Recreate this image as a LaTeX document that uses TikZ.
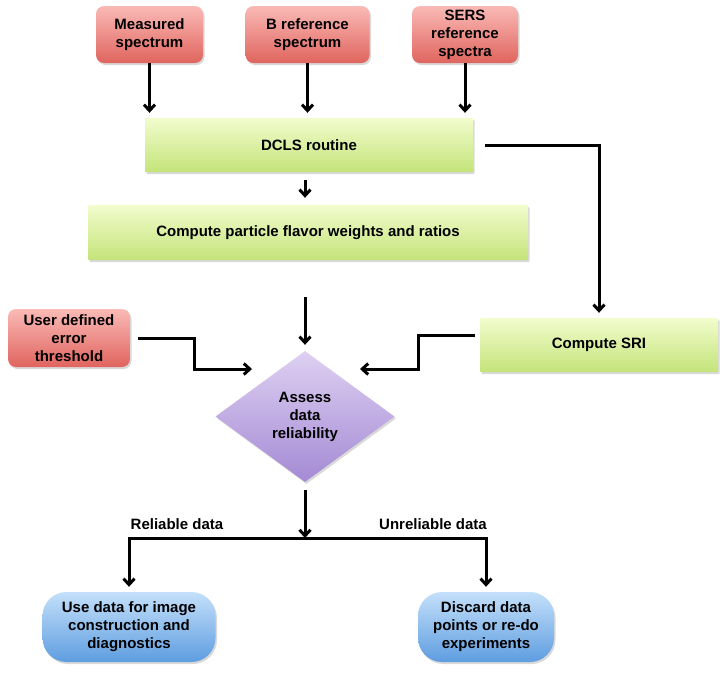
\documentclass[tikz,border=0pt]{standalone}
\usepackage{fontspec}
\setmainfont{Liberation Sans}
\usetikzlibrary{arrows.meta,shapes.geometric,shadows}
\definecolor{redT}{RGB}{250,186,182}
\definecolor{redB}{RGB}{224,100,94}
\definecolor{grnT}{RGB}{242,252,205}
\definecolor{grnB}{RGB}{196,228,122}
\definecolor{purT}{RGB}{222,208,242}
\definecolor{purB}{RGB}{164,138,212}
\definecolor{bluT}{RGB}{196,224,250}
\definecolor{bluB}{RGB}{94,157,224}
\tikzset{
  base/.style={font=\fontsize{15}{18}\selectfont\bfseries, align=center, inner sep=2pt,
    drop shadow={shadow xshift=1.5pt, shadow yshift=-2pt, opacity=0.3}},
  redbox/.style={base, rounded corners=8pt, top color=redT, bottom color=redB},
  grnbox/.style={base, rounded corners=1pt, top color=grnT, bottom color=grnB},
  dia/.style={base, diamond, top color=purT, bottom color=purB, inner sep=0pt},
  blubox/.style={base, rounded corners=24pt, top color=bluT, bottom color=bluB},
  lbl/.style={font=\fontsize{15}{18}\selectfont\bfseries},
  arr/.style={line width=3pt, -{Straight Barb[length=6pt,width=11pt,line width=3pt]}}
}
\begin{document}
\begin{tikzpicture}[x=1pt,y=-1pt]
\useasboundingbox (0,0) rectangle (724,673);
\node[redbox, minimum width=107pt, minimum height=57pt] (m) at (149.5,34.5) {Measured\\spectrum};
\node[redbox, minimum width=124pt, minimum height=57pt] (b) at (307.5,34.5) {B reference\\spectrum};
\node[redbox, minimum width=106pt, minimum height=57pt] (s) at (465,34.5) {SERS\\reference\\spectra};
\node[grnbox, minimum width=328pt, minimum height=54pt] (dcls) at (309,145) {DCLS routine};
\node[grnbox, minimum width=440pt, minimum height=55pt] (cp) at (308,232.5) {Compute particle flavor weights and ratios};
\node[redbox, minimum width=122pt, minimum height=58pt] (u) at (69,338) {User defined\\error\\threshold};
\node[grnbox, minimum width=238pt, minimum height=54pt] (sri) at (599,345) {Compute SRI};
\node[dia, minimum width=179pt, minimum height=131pt, aspect=1.37] (d) at (305,416.5) {Assess\\data\\reliability};
\node[blubox, minimum width=173pt, minimum height=70pt] (l) at (129,627) {Use data for image\\construction and\\diagnostics};
\node[blubox, minimum width=136pt, minimum height=70pt] (r) at (486,627) {Discard data\\points or re-do\\experiments};
\node[lbl] (rel) at (177,524) {Reliable data};
\node[lbl] (unrel) at (433,524) {Unreliable data};
\coordinate (uin) at (252,369);
\coordinate (sin) at (360,369);
\coordinate (split) at (305,538);
\draw[arr, shorten >=5pt] (m.south) -- (m.south |- dcls.north);
\draw[arr, shorten >=5pt] (b.south) -- (b.south |- dcls.north);
\draw[arr, shorten >=5pt] (s.south) -- (s.south |- dcls.north);
\draw[arr, shorten <=8pt, shorten >=7pt] (d.north |- dcls.south) -- (d.north |- cp.north);
\draw[arr, shorten <=12pt, shorten >=5pt] (dcls.east) -- (sri.north |- dcls.east) -- (sri.north);
\draw[arr, shorten <=37pt, shorten >=6pt] (d.north |- cp.south) -- (d.north);
\draw[arr, shorten <=8pt] (u.east) -- (194,338) -- (194,369) -- (uin);
\draw[arr, shorten <=5pt] ([yshift=10pt]sri.west) -- (418,335) -- (418,369) -- (sin);
\draw[arr, shorten <=8pt] (d.south) -- (split);
\draw[arr, shorten >=5pt] (split) -| (l.north);
\draw[arr, shorten >=5pt] (split) -| (r.north);
\end{tikzpicture}
\end{document}
